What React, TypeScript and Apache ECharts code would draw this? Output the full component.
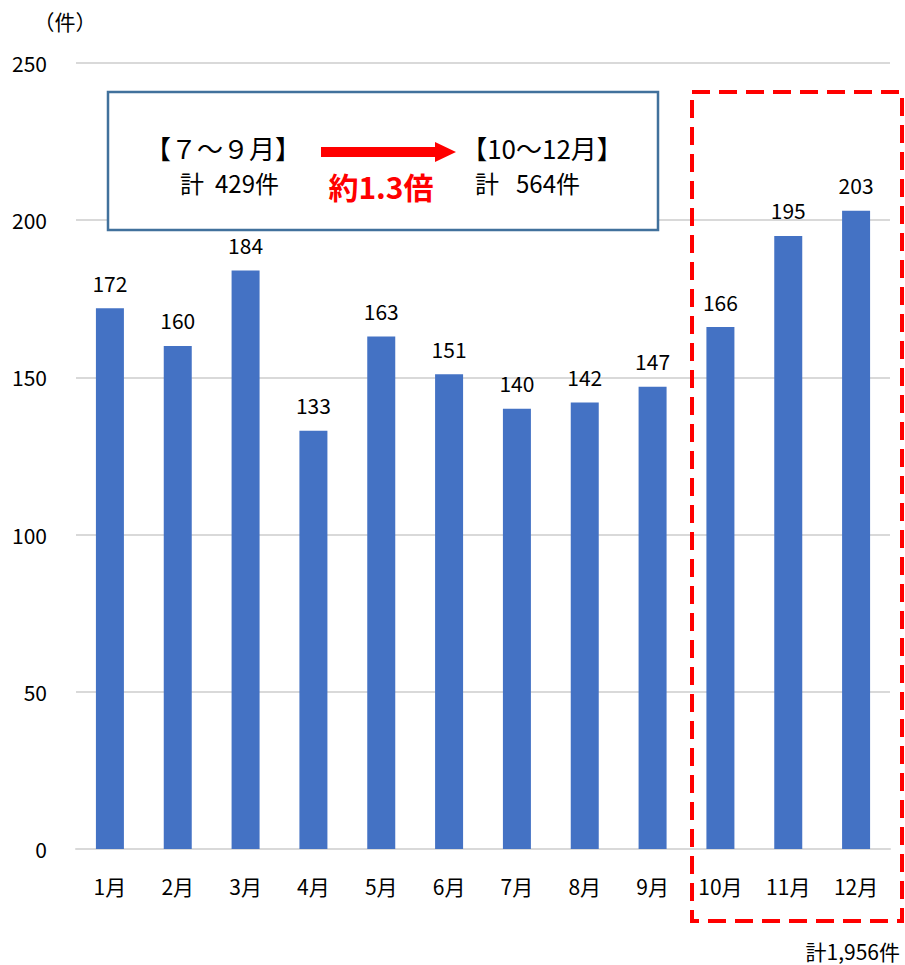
import React, { useEffect, useRef } from "react";
import * as echarts from "echarts";

const categories = ["1月", "2月", "3月", "4月", "5月", "6月", "7月", "8月", "9月", "10月", "11月", "12月"];
const counts = [172, 160, 184, 133, 163, 151, 140, 142, 147, 166, 195, 203];
const unitLabel = "（件）";
const totalLabel = "計1,956件";
const q3Title = "【７～９月】";
const q3Total = "429件";
const q4Title = "【10～12月】";
const q4Total = "564件";
const totalPrefix = "計";
const ratioLabel = "約1.3倍";

const FONT = "'Noto Sans CJK JP', 'Noto Sans', sans-serif";

export default function App() {
  const ref = useRef<HTMLDivElement>(null);
  useEffect(() => {
    document.body.style.margin = "0";
    const chart = echarts.init(ref.current!, null, { renderer: "svg" });
    const txt = (x: number, y: number, text: string, fontSize: number, extra: any = {}) => ({
      type: "text",
      x,
      y,
      z: 11,
      style: {
        text,
        fontSize,
        fill: "#000",
        fontFamily: FONT,
        verticalAlign: "middle",
        align: "left",
        ...extra,
      },
    });
    chart.setOption({
      animation: false,
      backgroundColor: "#ffffff",
      textStyle: { fontFamily: FONT },
      grid: { left: 76, right: 15, top: 63, bottom: 116 },
      xAxis: {
        type: "category",
        data: categories,
        axisLine: { lineStyle: { color: "#d9d9d9", width: 2 } },
        axisTick: { show: false },
        axisLabel: { color: "#000", fontSize: 21, margin: 26, fontFamily: FONT },
      },
      yAxis: {
        type: "value",
        min: 0,
        max: 250,
        interval: 50,
        axisLine: { show: false },
        axisTick: { show: false },
        splitLine: { lineStyle: { color: "#d9d9d9", width: 2 } },
        axisLabel: { color: "#000", fontSize: 21, margin: 29, fontFamily: FONT },
      },
      series: [
        {
          type: "bar",
          data: counts,
          barWidth: 28,
          itemStyle: { color: "#4472C4" },
          label: {
            show: true,
            position: "top",
            distance: 15,
            color: "#000",
            fontSize: 21,
            fontFamily: FONT,
          },
        },
      ],
      graphic: [
        txt(65, 21, unitLabel, 21, { align: "center" }),
        {
          type: "rect",
          shape: { x: 108, y: 92, width: 550, height: 138 },
          style: { fill: "#fff", stroke: "#41719C", lineWidth: 2.5 },
          z: 10,
        },
        txt(223, 147, q3Title, 26, { align: "center" }),
        txt(180, 182, totalPrefix, 24),
        txt(215, 182, q3Total, 24),
        txt(542, 147, q4Title, 26, { align: "center" }),
        txt(475, 182, totalPrefix, 24),
        txt(516, 182, q4Total, 24),
        {
          type: "polygon",
          shape: { points: [[321, 147], [435, 147], [435, 142], [456, 152], [435, 162], [435, 157], [321, 157]] },
          style: { fill: "#ff0000" },
          z: 11,
        },
        txt(381, 186, ratioLabel, 30, { align: "center", fontWeight: "bold", fill: "#ff0000" }),
        {
          type: "rect",
          shape: { x: 692, y: 92, width: 210, height: 829 },
          style: { fill: "none", stroke: "#ff0000", lineWidth: 4, lineDash: [18, 9] },
          z: 10,
        },
        { ...txt(900, 951, totalLabel, 21, { align: "right" }), z: 5 },
      ],
    });
    return () => chart.dispose();
  }, []);
  return <div ref={ref} style={{ width: 905, height: 965 }} />;
}
